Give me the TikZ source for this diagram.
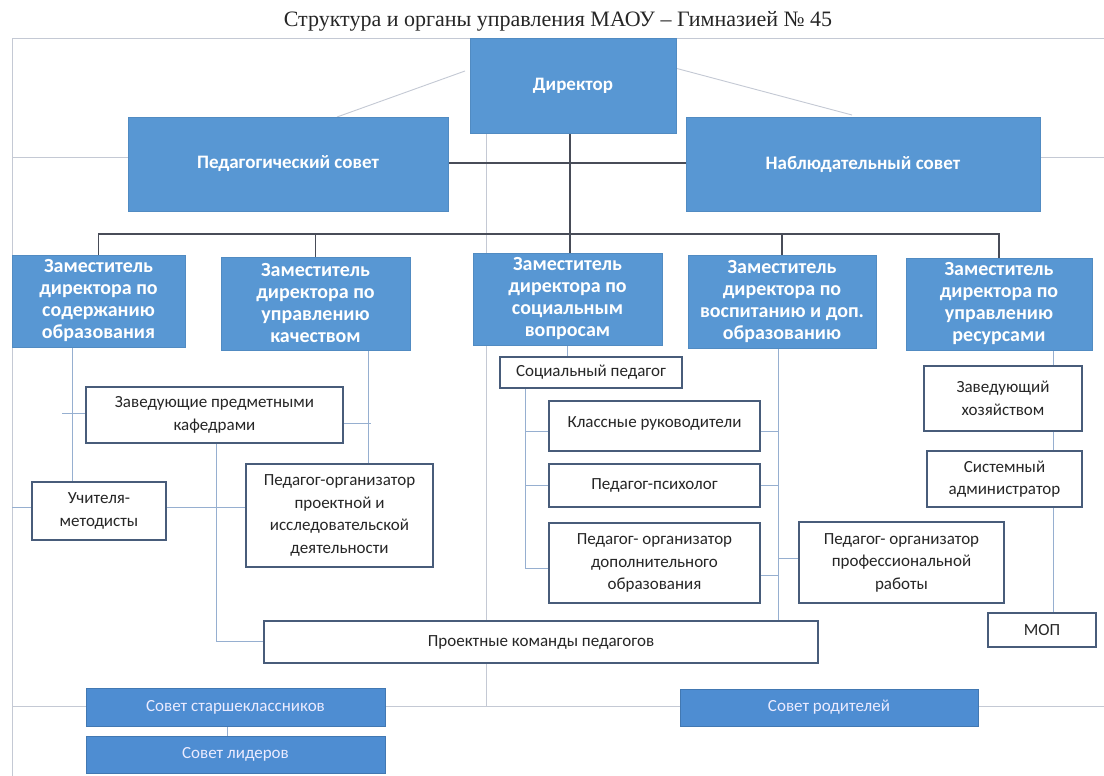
\documentclass[tikz,border=0pt]{standalone}
\usepackage{fontspec}
\setmainfont{Carlito}
\newfontfamily\titlefont{Liberation Serif}
\usetikzlibrary{calc}
\definecolor{boxblue}{RGB}{88,151,211}
\definecolor{boxblueb}{RGB}{78,141,210}
\definecolor{boxedge}{RGB}{72,92,122}
\definecolor{connblue}{RGB}{150,175,208}
\definecolor{framegray}{RGB}{196,201,212}
\definecolor{darkln}{RGB}{72,76,88}
\pgfdeclarelayer{bg}
\pgfdeclarelayer{lines}
\pgfsetlayers{bg,lines,main}
\begin{document}
\begin{tikzpicture}[x=1pt,y=-1pt,
  sz/.style 2 args={minimum width=#1pt, minimum height=#2pt},
  bluebox/.style={draw=boxblue!92!black, line width=0.5pt, fill=boxblue, text=white, align=center, inner sep=1pt, font=\bfseries\fontsize{19}{22}\selectfont},
  depbox/.style={bluebox, font=\bfseries\fontsize{20}{22}\selectfont},
  lowbox/.style={draw=boxblueb!85!black, line width=0.8pt, fill=boxblueb, text=white!92!blue, align=center, inner sep=1pt, font=\fontsize{17}{20}\selectfont},
  whitebox/.style={draw=boxedge, line width=1.1pt, fill=white, text=black!85, align=center, inner sep=1pt, font=\fontsize{17}{22.5}\selectfont},
  frameline/.style={draw=framegray, line width=0.9pt},
  conn/.style={draw=connblue, line width=1pt},
  darkline/.style={draw=darkln, line width=1.1pt}]
\useasboundingbox (0,0) rectangle (1104,776);
\begin{pgfonlayer}{bg}
\fill[white] (0,0) rectangle (1104,776);
\end{pgfonlayer}

\node[font=\titlefont\fontsize{22}{24}\selectfont, text=black!85] (title) at (558,21) {Структура и органы управления МАОУ – Гимназией № 45};

% top level
\node[bluebox, sz={206}{95}] (dir) at (573,86) {Директор};
\node[bluebox, sz={320}{94}] (ped) at (288,164) {Педагогический совет};
\node[bluebox, sz={354}{94}] (nab) at (863,164) {Наблюдательный совет};

% deputies
\node[depbox, sz={173}{92}] (d1) at (98.5,301) {Заместитель\\директора по\\содержанию\\образования};
\node[depbox, sz={189}{93}] (d2) at (315.5,303.5) {Заместитель\\директора по\\управлению\\качеством};
\node[depbox, sz={189}{92}] (d3) at (567.5,299) {Заместитель\\директора по\\социальным\\вопросам};
\node[depbox, sz={188}{93}] (d4) at (782,301.5) {Заместитель\\директора по\\воспитанию и доп.\\образованию};
\node[depbox, sz={186}{92}] (d5) at (999,304) {Заместитель\\директора по\\управлению\\ресурсами};

% white boxes
\node[whitebox, sz={257}{56}] (kaf) at (214.5,415) {Заведующие предметными\\кафедрами};
\node[whitebox, sz={134}{58}] (uch) at (99,511) {Учителя-\\методисты};
\node[whitebox, sz={187}{103}] (porg) at (339.5,515.5) {Педагог-организатор\\проектной и\\исследовательской\\деятельности};
\node[whitebox, sz={182}{31}] (soc) at (591,372.5) {Социальный педагог};
\node[whitebox, sz={211}{50}, text depth=8pt] (kl) at (654.5,426) {Классные руководители};
\node[whitebox, sz={211}{43}] (psy) at (654.5,485.5) {Педагог-психолог};
\node[whitebox, sz={211}{80}] (dop) at (654.5,563) {Педагог- организатор\\дополнительного\\образования};
\node[whitebox, sz={205}{81}] (prof) at (901.5,562.5) {Педагог- организатор\\профессиональной\\работы};
\node[whitebox, sz={158}{65}] (zav) at (1003,398.5) {Заведующий\\хозяйством};
\node[whitebox, sz={155}{56}] (sys) at (1004.5,479) {Системный\\администратор};
\node[whitebox, sz={108}{34}] (mop) at (1042,630) {МОП};
\node[whitebox, sz={554}{42}] (proj) at (541,642) {Проектные команды педагогов};

% bottom councils
\node[lowbox, sz={299}{38}] (sst) at (235.5,707) {Совет старшеклассников};
\node[lowbox, sz={299}{37}] (sl) at (235.5,754.5) {Совет лидеров};
\node[lowbox, sz={298}{37}] (srod) at (829,707.5) {Совет родителей};

% named coordinates
\coordinate (tl) at (12,38);
\coordinate (tr) at (1104,38);
\coordinate (bl) at (12,776);
\coordinate (ml) at (12,157);
\coordinate (mr) at (1104,157);
\coordinate (bbl) at (12,706);
\coordinate (bbr) at (1104,706);
\coordinate (dga) at (465,71);
\coordinate (dgb) at (337,117);
\coordinate (dgc) at (675,68);
\coordinate (dgd) at (852,115);
\coordinate (lv) at (486,706);
\coordinate (bus) at (570,234);
\coordinate (cy) at (0,163);
\coordinate (v1) at (72,0);
\coordinate (v2) at (368,0);
\coordinate (kl1) at (62,413);
\coordinate (kr1) at (371,423);
\coordinate (uy) at (0,507);
\coordinate (uyl) at (12,507);
\coordinate (kv) at (216,641);
\coordinate (sv) at (525,388);
\coordinate (s1) at (525,431);
\coordinate (s3) at (525,568);
\coordinate (rv) at (778,0);
\coordinate (r1) at (0,431);
\coordinate (r3) at (0,575);
\coordinate (r4) at (0,558);
\coordinate (zv) at (1053,0);
\coordinate (cv) at (227,0);

\begin{pgfonlayer}{lines}
% frame
\draw[frameline] (tr) -- (tl) -- (bl);
\draw[frameline] (ml) -- (ml -| ped.west);
\draw[frameline] (nab.east |- mr) -- (mr);
\draw[frameline] (bbl) -- (bbr);
\draw[frameline] (dga) -- (dgb);
\draw[frameline] (dgc) -- (dgd);
\draw[frameline] (dir.south -| lv) -- (lv);
% main hierarchy
\draw[darkline] (dir.south -| bus) -- (bus) -- (d3.north -| bus);
\draw[darkline] (d1.north) -- (d1.north |- bus) -- (d5.north |- bus) -- (d5.north);
\draw[darkline] (d2.north) -- (d2.north |- bus);
\draw[darkline] (d4.north) -- (d4.north |- bus);
\draw[darkline] (ped.east |- cy) -- (nab.west |- cy);
% left branch
\draw[conn] (d1.south -| v1) -- (uch.north -| v1);
\draw[conn] (d2.south -| v2) -- (porg.north -| v2);
\draw[conn] (kl1) -- (kl1 -| kaf.west);
\draw[conn] (kaf.east |- kr1) -- (kr1);
\draw[conn] (uch.east |- uy) -- (porg.west |- uy);
\draw[conn] (uyl) -- (uch.west |- uyl);
\draw[conn] (kaf.south -| kv) -- (kv) -- (proj.west |- kv);
% social branch
\draw[conn] (d3.south) -- (d3.south |- soc.north);
\draw[conn] (sv) -- (s3);
\draw[conn] (s1) -- (kl.west |- s1);
\draw[conn] (sv |- psy.west) -- (psy.west);
\draw[conn] (s3) -- (dop.west |- s3);
% upbringing branch
\draw[conn] (d4.south -| rv) -- (proj.north -| rv);
\draw[conn] (kl.east |- r1) -- (rv |- r1);
\draw[conn] (psy.east) -- (rv |- psy.east);
\draw[conn] (dop.east |- r3) -- (rv |- r3);
\draw[conn] (rv |- r4) -- (prof.west |- r4);
% resources branch
\draw[conn] (d5.south -| zv) -- (mop.north -| zv);
% councils
\draw[conn] (sst.south -| cv) -- (sl.north -| cv);
\end{pgfonlayer}
\end{tikzpicture}
\end{document}
